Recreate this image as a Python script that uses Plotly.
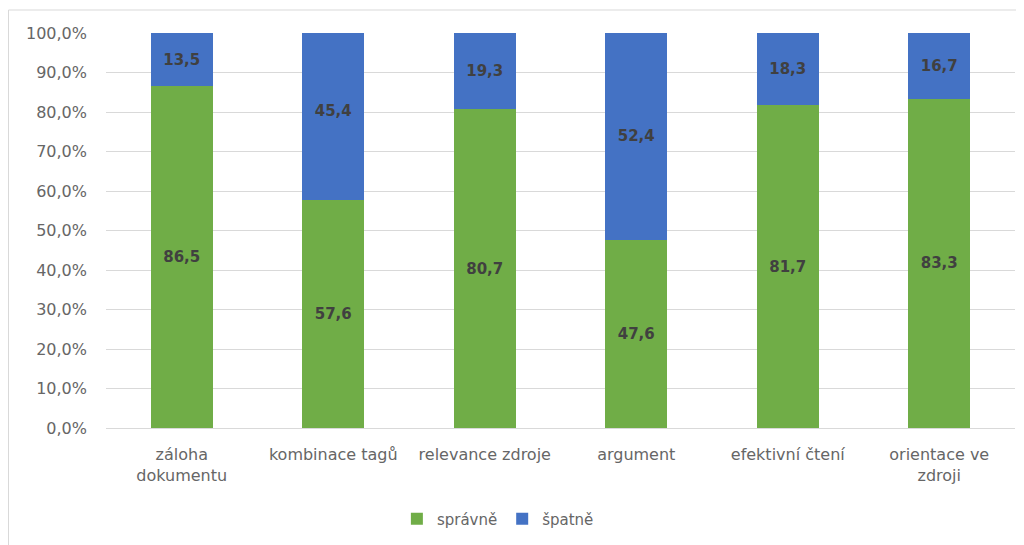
import plotly.graph_objects as go

categories = ["záloha<br>dokumentu", "kombinace tagů", "relevance zdroje",
              "argument", "efektivní čtení", "orientace ve<br>zdroji"]
spravne = [86.5, 57.6, 80.7, 47.6, 81.7, 83.3]
spatne = [13.5, 45.4, 19.3, 52.4, 18.3, 16.7]
series_names = ["správně", "špatně"]
colors = ["#70AD47", "#4472C4"]

# page body has an 8px margin, so the figure is sized to fill the rest
W, H = 1016, 537
L, R, T, B = 98, 9, 25, 117
pw = W - L - R
ph = H - T - B
FONT = "DejaVu Sans"

fig = go.Figure()
for name, vals, col in zip(series_names, [spravne, spatne], colors):
    fig.add_trace(go.Bar(
        x=categories, y=vals, name=name, marker=dict(color=col, line=dict(width=0)),
        texttemplate="%{y:.1f}", textposition="inside", insidetextanchor="middle",
        textfont=dict(family=FONT, size=15, color="#404040", weight="bold"),
        textangle=0, hoverinfo="skip",
    ))

fig.update_layout(
    width=W, height=H, barmode="stack", bargap=0.59,
    separators=", ",
    margin=dict(l=L, r=R, t=T, b=B, autoexpand=False),
    paper_bgcolor="white", plot_bgcolor="white",
    font=dict(family=FONT, size=15, color="#595959"),
    yaxis=dict(range=[0, 100], dtick=10, tickformat=".1f", ticksuffix="%",
               showgrid=True, gridcolor="#D9D9D9", gridwidth=1, zeroline=False,
               showline=False, ticks="", ticklabelstandoff=18,
               tickfont=dict(family=FONT, size=16, color="#666666")),
    xaxis=dict(showline=True, linecolor="#D9D9D9", linewidth=1, ticks="",
               tickfont=dict(family=FONT, size=16, color="#666666"),
               ticklabelstandoff=12),
    legend=dict(orientation="h", x=0.32, xanchor="left",
                y=(T + ph - 511) / ph, yanchor="middle",
                font=dict(family=FONT, size=15, color="#666666"),
                itemwidth=30, traceorder="normal"),
    uniformtext=dict(mode=False),
    shapes=[dict(type="rect", xref="paper", yref="paper",
                 x0=(0.5 - L) / pw, x1=(1040 - L) / pw,
                 y0=(T + ph - 560) / ph, y1=1 + (T - 2) / ph,
                 line=dict(color="#D9D9D9", width=1), layer="below")],
)

fig.write_html("out.html")
